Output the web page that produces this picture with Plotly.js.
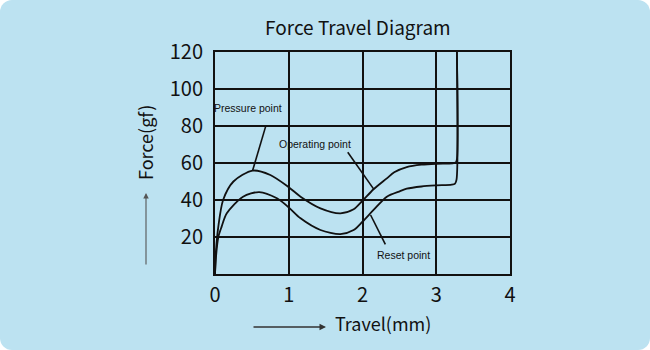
<!DOCTYPE html>
<html>
<head>
<meta charset="utf-8">
<script src="https://cdn.plot.ly/plotly-3.0.1.min.js"></script>
<style>
html,body{margin:0;padding:0;background:#ffffff;}
#card{position:absolute;left:0;top:0;width:650px;height:350px;border-radius:12px;background:#bce2f1;overflow:hidden;}
#chart{width:650px;height:350px;}
</style>
</head>
<body>
<div id="card"><div id="chart"></div></div>
<script>
// Pressing (upper) curve
const upperX = [0, 0.005, 0.014, 0.045, 0.11, 0.25, 0.51, 0.75, 1.0, 1.16, 1.43, 1.70, 1.88, 2.0, 2.15, 2.33, 2.43, 2.6, 2.8, 3.0, 3.22, 3.265, 3.28, 3.28];
const upperY = [0, 5, 13, 25.6, 40, 50, 55.9, 53.5, 46.9, 41.8, 35.5, 32.8, 35, 39.6, 45.8, 51.7, 55.0, 57.8, 59.1, 59.6, 59.8, 60.3, 62, 120];
// Release (lower) curve
const lowerX = [0, 0.01, 0.045, 0.09, 0.16, 0.38, 0.60, 0.84, 1.0, 1.16, 1.43, 1.70, 1.88, 2.0, 2.15, 2.33, 2.51, 2.6, 2.8, 3.0, 3.21, 3.255, 3.275, 3.28];
const lowerY = [0, 7.6, 20, 25.6, 32.8, 41.8, 44.3, 40.9, 36, 30.1, 23.8, 21.6, 23.8, 28.3, 34.6, 41.8, 44.8, 46.1, 47.3, 47.9, 48.3, 48.9, 51, 120];

const xTicks = [0, 1, 2, 3, 4];
const yTicks = [20, 40, 60, 80, 100, 120];

// Callout labels and their leader lines (data units)
const labelTexts = ["Pressure point", "Operating point", "Reset point"];
const labelX = [0.45, 1.35, 2.55];
const labelY = [89.7, 70.3, 10.3];
const leaderX0 = [0.69, 1.80, 2.31];
const leaderY0 = [80.2, 65.8, 16.0];
const leaderX1 = [0.51, 2.15, 2.11];
const leaderY1 = [55.9, 46.0, 31.9];

const titleText = "Force Travel Diagram";
const xTitleText = "Travel(mm)";
const yTitleText = "Force(gf)";

const FONT = "Noto Sans CJK SC, Noto Sans, sans-serif";
const lineStyle = {color: "#111111", width: 1.8, shape: "spline", smoothing: 0.8};

const traces = [
  {x: upperX, y: upperY, mode: "lines", line: lineStyle, hoverinfo: "skip", showlegend: false},
  {x: lowerX, y: lowerY, mode: "lines", line: lineStyle, hoverinfo: "skip", showlegend: false}
];

// plot area in pixels: x 215..510, y 52..274
const L = 215, R = 510, T = 52, B = 274;
const px = v => (v - L) / (R - L);
const py = v => (B - v) / (B - T);

const annotations = [];
labelTexts.forEach((t, i) => {
  annotations.push({x: labelX[i], y: labelY[i], xref: "x", yref: "y", text: t, showarrow: false,
    xanchor: "center", yanchor: "middle",
    font: {family: "Liberation Sans, Arial, sans-serif", size: 10.5, color: "#111111"}});
});
const center = {xanchor: "center", yanchor: "middle", showarrow: false, xref: "paper", yref: "paper"};
annotations.push(Object.assign({x: px(357.5), y: py(26), text: titleText,
  font: {family: FONT, size: 19, color: "#111111"}}, center));
annotations.push(Object.assign({x: px(383), y: py(323), text: xTitleText,
  font: {family: FONT, size: 18, color: "#111111"}}, center));
annotations.push(Object.assign({x: px(145), y: py(143), text: yTitleText, textangle: -90,
  font: {family: FONT, size: 18, color: "#111111"}}, center));
// axis direction arrows
annotations.push({x: px(326), y: py(327), xref: "paper", yref: "paper", ax: -74, ay: 0, text: "", showarrow: true,
  arrowhead: 2, arrowsize: 1, arrowwidth: 1.3, arrowcolor: "#333333"});
annotations.push({x: px(146), y: py(193), xref: "paper", yref: "paper", ax: 0, ay: 73, text: "", showarrow: true,
  arrowhead: 2, arrowsize: 1, arrowwidth: 1.1, arrowcolor: "#555555"});

const shapes = leaderX0.map((x0, i) => ({type: "line", xref: "x", yref: "y",
  x0: x0, y0: leaderY0[i], x1: leaderX1[i], y1: leaderY1[i], line: {color: "#111111", width: 1.6}}));

const axisCommon = {
  showgrid: true, gridcolor: "#111111", gridwidth: 2,
  showline: true, linecolor: "#111111", linewidth: 2, mirror: true,
  zeroline: false, ticks: "", fixedrange: true,
  tickfont: {family: FONT, size: 20, color: "#111111"}
};

const layout = {
  width: 650, height: 350,
  margin: {l: L, r: 650 - R, t: T, b: 350 - B},
  paper_bgcolor: "rgba(0,0,0,0)", plot_bgcolor: "rgba(0,0,0,0)",
  xaxis: Object.assign({}, axisCommon, {range: [0, 4], tickvals: xTicks, ticktext: xTicks.map(String), ticklabelstandoff: 2}),
  yaxis: Object.assign({}, axisCommon, {range: [0, 120], tickvals: yTicks, ticktext: yTicks.map(String), ticklabelstandoff: 6}),
  annotations: annotations,
  shapes: shapes,
  showlegend: false
};

Plotly.newPlot("chart", traces, layout, {displayModeBar: false, staticPlot: true});
</script>
</body>
</html>
